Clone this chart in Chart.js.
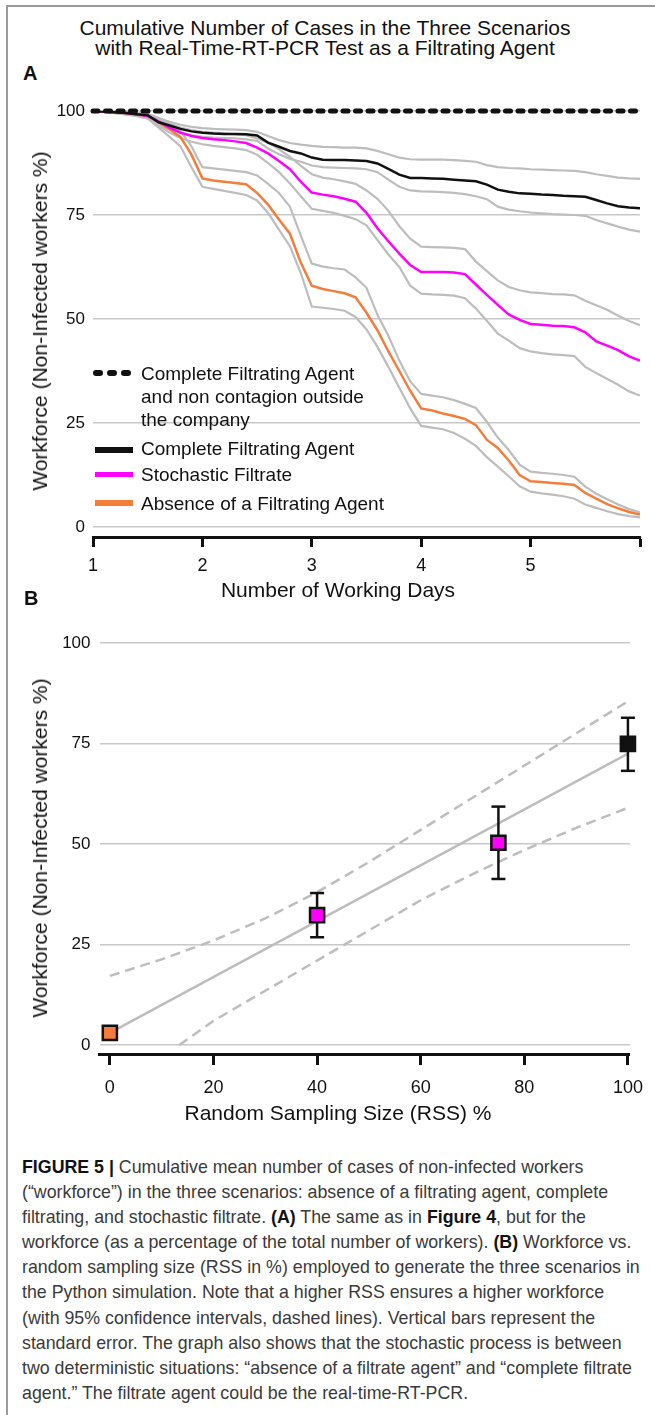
<!DOCTYPE html>
<html>
<head>
<meta charset="utf-8">
<script src="https://cdn.jsdelivr.net/npm/chart.js@4.4.0/dist/chart.umd.min.js"></script>
<style>
  body { margin: 0; background: #fff; width: 655px; height: 1415px; position: relative; overflow: hidden;
         font-family: 'Liberation Sans', Arial, sans-serif; color: #111; }
  canvas { position: absolute; left: 0; }
  .frame-top  { position: absolute; left: 7px; top: 5px; width: 648px; height: 1.5px; background: #9a9a9a; }
  .frame-left { position: absolute; left: 6px; top: 5px; width: 1.5px; height: 1410px; background: #9a9a9a; }
  .title { position: absolute; left: 0; width: 650px; text-align: center; font-size: 21px; line-height: 18px; white-space: nowrap; }
  .panel { position: absolute; font-weight: bold; font-size: 20px; line-height: 20px; }
  .axt { position: absolute; font-size: 21px; line-height: 24px; white-space: nowrap; transform: translate(-50%, -50%); }
  .axt.rot { transform: translate(-50%, -50%) rotate(-90deg); }
  .lg-text { position: absolute; left: 141px; font-size: 19px; line-height: 23px; white-space: nowrap; }
  .lg-line { position: absolute; }
  .dash { position: absolute; width: 10px; height: 6px; border-radius: 3px; background: #111; }
  .caption { position: absolute; left: 22px; top: 1155px; font-size: 17.8px; line-height: 25.1px; color: #3a3a3a; white-space: nowrap; }
  .caption b { color: #111; }
</style>
</head>
<body>
<div class="frame-top"></div>
<div class="frame-left"></div>

<div class="title" style="top:19px">Cumulative Number of Cases in the Three Scenarios</div>
<div class="title" style="top:39px">with Real-Time-RT-PCR Test as a Filtrating Agent</div>
<div class="panel" style="left:23px; top:63px">A</div>

<canvas id="chartA" width="655" height="610" style="top:0"></canvas>

<!-- panel A legend -->
<div class="dash" style="left:93px; top:370px"></div>
<div class="dash" style="left:107px; top:370px"></div>
<div class="dash" style="left:121px; top:370px"></div>
<div class="lg-text" style="top:362px">Complete Filtrating Agent<br>and non contagion outside<br>the company</div>
<div class="lg-line" style="left:95px; top:447px; width:38px; height:6px; background:#111"></div>
<div class="lg-text" style="top:437px">Complete Filtrating Agent</div>
<div class="lg-line" style="left:95px; top:472px; width:38px; height:5px; background:#ff00ff"></div>
<div class="lg-text" style="top:463px">Stochastic Filtrate</div>
<div class="lg-line" style="left:95px; top:500px; width:38px; height:6px; background:#f47d3c"></div>
<div class="lg-text" style="top:492px">Absence of a Filtrating Agent</div>

<div class="axt rot" style="left:40px; top:321px">Workforce (Non-Infected workers %)</div>
<div class="axt" style="left:338px; top:590px">Number of Working Days</div>

<div class="panel" style="left:24px; top:588px">B</div>
<canvas id="chartB" width="655" height="525" style="top:610px"></canvas>
<div class="axt rot" style="left:40px; top:848px">Workforce (Non-Infected workers %)</div>
<div class="axt" style="left:338px; top:1113px">Random Sampling Size (RSS) %</div>

<div class="caption">
<b>FIGURE 5 |</b> Cumulative mean number of cases of non-infected workers<br>
(“workforce”) in the three scenarios: absence of a filtrating agent, complete<br>
filtrating, and stochastic filtrate. <b>(A)</b> The same as in <b>Figure 4</b>, but for the<br>
workforce (as a percentage of the total number of workers). <b>(B)</b> Workforce vs.<br>
random sampling size (RSS in %) employed to generate the three scenarios in<br>
the Python simulation. Note that a higher RSS ensures a higher workforce<br>
(with 95% confidence intervals, dashed lines). Vertical bars represent the<br>
standard error. The graph also shows that the stochastic process is between<br>
two deterministic situations: “absence of a filtrate agent” and “complete filtrate<br>
agent.” The filtrate agent could be the real-time-RT-PCR.
</div>

<script>
/* ---------- Panel A data: workforce % per working day ---------- */
const days = [1.0, 1.1, 1.2, 1.3, 1.4, 1.5, 1.6, 1.7, 1.8, 1.9,
              2.0, 2.1, 2.2, 2.3, 2.4, 2.5, 2.6, 2.7, 2.8, 2.9,
              3.0, 3.1, 3.2, 3.3, 3.4, 3.5, 3.6, 3.7, 3.8, 3.9,
              4.0, 4.1, 4.2, 4.3, 4.4, 4.5, 4.6, 4.7, 4.8, 4.9,
              5.0, 5.1, 5.2, 5.3, 5.4, 5.5, 5.6, 5.7, 5.8, 5.9, 6.0];

const noContagionDays = [1, 6];
const noContagion     = [100, 100];

const complete   = [100, 99.9, 99.7, 99.5, 99.2, 99.0, 97.3, 96.5, 95.7, 95.1,
                    94.8, 94.6, 94.5, 94.5, 94.4, 94.1, 92.4, 91.4, 90.4, 89.8,
                    88.8, 88.3, 88.2, 88.2, 88.1, 88.0, 87.4, 86.1, 84.7, 83.9,
                    83.9, 83.8, 83.7, 83.5, 83.3, 83.1, 82.3, 81.1, 80.6, 80.2,
                    80.1, 79.9, 79.8, 79.6, 79.5, 79.4, 78.6, 77.8, 77.1, 76.8, 76.6];
const completeHi = [100, 100, 99.9, 99.8, 99.6, 99.3, 98.3, 97.4, 96.7, 96.2,
                    95.9, 95.7, 95.6, 95.5, 95.4, 95.0, 94.0, 93.0, 92.3, 91.9,
                    91.6, 91.4, 91.3, 91.2, 91.2, 91.0, 90.4, 89.6, 88.8, 88.4,
                    88.3, 88.3, 88.3, 88.2, 88.0, 87.8, 87.0, 86.5, 86.3, 86.2,
                    86.0, 85.9, 85.8, 85.7, 85.6, 85.3, 84.8, 84.4, 84.0, 83.8, 83.7];
const completeLo = [100, 99.8, 99.6, 99.3, 98.9, 98.3, 96.6, 95.6, 94.8, 94.2,
                    93.8, 93.6, 93.5, 93.4, 93.2, 92.8, 91.0, 89.6, 88.5, 87.8,
                    86.9, 86.5, 86.4, 86.3, 86.2, 86.0, 85.3, 83.5, 81.8, 80.9,
                    80.7, 80.6, 80.5, 80.3, 80.0, 79.5, 78.8, 77.0, 76.3, 75.9,
                    75.6, 75.4, 75.2, 75.1, 75.0, 74.8, 73.8, 73.0, 72.2, 71.5, 71.0];

const stochastic   = [100, 99.9, 99.7, 99.5, 99.2, 98.8, 97.5, 96.0, 94.8, 94.0,
                      93.5, 93.2, 93.0, 92.7, 92.3, 91.2, 89.8, 88.0, 86.0, 83.0,
                      80.4, 79.9, 79.5, 78.9, 78.2, 75.5, 71.8, 68.7, 65.7, 63.0,
                      61.3, 61.3, 61.3, 61.2, 60.8, 58.3, 55.8, 53.4, 51.1, 49.8,
                      48.8, 48.6, 48.4, 48.3, 48.0, 46.8, 44.6, 43.6, 42.5, 41.0, 40.0];
const stochasticHi = [100, 100, 99.9, 99.7, 99.5, 99.2, 98.2, 97.0, 96.0, 95.4,
                      95.0, 94.8, 94.6, 94.4, 94.2, 93.4, 92.4, 90.8, 89.0, 86.8,
                      84.8, 84.0, 83.6, 83.1, 82.5, 80.9, 78.9, 76.0, 72.3, 69.3,
                      67.4, 67.3, 67.2, 67.1, 66.8, 63.8, 61.5, 59.3, 57.7, 56.9,
                      56.4, 56.2, 56.0, 55.9, 55.7, 54.4, 53.3, 52.2, 50.8, 49.5, 48.5];
const stochasticLo = [100, 99.8, 99.5, 99.2, 98.8, 98.2, 96.5, 94.8, 93.5, 92.6,
                      92.0, 91.6, 91.3, 91.0, 90.6, 89.5, 87.5, 85.3, 82.6, 79.5,
                      76.5, 76.0, 75.5, 74.8, 74.0, 72.5, 69.0, 65.5, 62.5, 58.0,
                      56.1, 55.9, 55.8, 55.6, 55.0, 52.5, 49.6, 46.5, 44.8, 43.0,
                      42.2, 41.8, 41.5, 41.3, 41.1, 38.5, 37.0, 35.6, 34.2, 32.6, 31.6];

const absence   = [100, 99.9, 99.7, 99.5, 99.2, 98.8, 97.3, 95.6, 93.7, 89.5,
                   83.8, 83.3, 83.0, 82.7, 82.4, 80.3, 77.5, 73.9, 70.5, 63.5,
                   58.0, 57.2, 56.7, 56.2, 55.2, 51.5, 47.3, 42.2, 37.5, 32.7,
                   28.5, 28.0, 27.3, 26.7, 26.0, 24.5, 21.0, 19.0, 16.0, 12.5,
                   11.0, 10.8, 10.6, 10.4, 10.1, 8.2, 6.8, 5.5, 4.5, 3.6, 3.0];
const absenceHi = [100, 100, 99.9, 99.7, 99.5, 99.2, 98.2, 96.6, 95.2, 91.5,
                   86.5, 86.2, 85.9, 85.6, 85.3, 84.5, 82.5, 80.3, 77.0, 70.0,
                   63.3, 62.6, 62.2, 61.9, 60.0, 57.5, 51.0, 46.0, 40.0, 35.0,
                   32.0, 31.6, 31.2, 30.5, 29.6, 28.6, 25.3, 21.5, 18.5, 15.0,
                   13.3, 13.0, 12.8, 12.5, 12.1, 9.7, 8.0, 6.7, 5.4, 4.3, 3.5];
const absenceLo = [100, 99.8, 99.5, 99.2, 98.8, 98.2, 96.0, 93.8, 91.5, 86.5,
                   81.8, 81.3, 80.8, 80.3, 79.8, 78.5, 75.5, 71.5, 67.5, 61.0,
                   53.0, 52.7, 52.4, 52.0, 50.5, 47.5, 43.3, 38.5, 33.5, 28.5,
                   24.3, 23.9, 23.5, 22.6, 21.2, 19.5, 16.8, 14.5, 12.2, 9.8,
                   8.5, 8.1, 7.8, 7.4, 6.8, 5.4, 4.6, 3.8, 3.1, 2.6, 2.3];

const dayTicks      = [1, 2, 3, 4, 5, 6];
const dayTickLabels = ['1', '2', '3', '4', '5', ''];
const pctTicks      = [0, 25, 50, 75, 100];

/* ---------- Panel B data: workforce vs random sampling size ---------- */
const rss        = [0, 40, 75, 100];
const rssMean    = [3, 32.3, 50.3, 74.9];
const rssErrLow  = [null, 26.8, 41.3, 68.2];
const rssErrHigh = [null, 37.8, 59.3, 81.4];
const rssColors  = ['#f47d3c', '#ff00ff', '#ff00ff', '#111111'];

const fitX = [0, 100];
const fitY = [3, 72.5];
const ciUpperX = [0, 10, 20, 30, 40, 50, 60, 70, 80, 90, 100];
const ciUpperY = [17.2, 21.3, 26.0, 31.5, 38.0, 45.5, 53.5, 61.5, 69.5, 77.5, 85.5];
const ciLowerX = [13.4, 20, 30, 40, 50, 60, 70, 80, 90, 100];
const ciLowerY = [0, 6.0, 13.5, 21.0, 28.5, 36.0, 42.5, 48.5, 54.0, 59.0];
const rssTicks = [0, 20, 40, 60, 80, 100];

/* ---------- shared style ---------- */
const INK   = '#111111';
const BAND  = '#bdbdbd';
const GRID  = '#c8c8c8';
const ORANGE = '#f47d3c';
const MAGENTA = '#ff00ff';

Chart.defaults.font.family = "'Liberation Sans', Arial, sans-serif";
Chart.defaults.color = INK;

const xy = (xs, ys) => xs.map((x, i) => ({ x, y: ys[i] }));

function curve(values, color, width, order) {
    return { data: xy(days, values), borderColor: color, borderWidth: width, order,
             pointRadius: 0, tension: 0, fill: false };
}

const fixedTicks = list => scale => { scale.ticks = list.map(v => ({ value: v })); };

/* ---------- Panel A ---------- */
new Chart(document.getElementById('chartA'), {
    type: 'line',
    data: {
        datasets: [
            { data: xy(noContagionDays, noContagion), borderColor: INK, borderWidth: 5,
              borderDash: [5, 7.5], borderCapStyle: 'round', pointRadius: 0, order: 0, clip: false },
            curve(complete,   INK,     2.5, 1),
            curve(stochastic, MAGENTA, 2.5, 1),
            curve(absence,    ORANGE,  2.5, 1),
            curve(completeHi,   BAND, 2.2, 2),
            curve(completeLo,   BAND, 2.2, 2),
            curve(stochasticHi, BAND, 2.2, 2),
            curve(stochasticLo, BAND, 2.2, 2),
            curve(absenceHi,    BAND, 2.2, 2),
            curve(absenceLo,    BAND, 2.2, 2),
        ],
    },
    options: {
        responsive: false,
        animation: false,
        layout: { padding: { top: 111, right: 15, left: 0, bottom: 0 } },
        plugins: { legend: { display: false }, tooltip: { enabled: false } },
        scales: {
            x: {
                type: 'linear', min: 1, max: 6,
                afterBuildTicks: fixedTicks(dayTicks),
                afterFit: s => { s.height = 73; },
                ticks: { callback: (v, i) => dayTickLabels[i], font: { size: 18 }, padding: 8,
                         maxRotation: 0, autoSkip: false, color: INK },
                grid: { drawOnChartArea: false, drawTicks: true, tickLength: 10, tickWidth: 3,
                        tickColor: INK, color: INK },
                border: { display: true, color: INK, width: 3 },
            },
            y: {
                type: 'linear', min: -2.4, max: 100,
                afterBuildTicks: fixedTicks(pctTicks),
                afterFit: s => { s.width = 93; },
                ticks: { font: { size: 17 }, padding: 8, color: INK },
                grid: { color: GRID, lineWidth: 1.5, drawTicks: false },
                border: { display: false },
            },
        },
    },
});

/* ---------- Panel B ---------- */
const errorBars = rss
    .map((x, i) => ({ x, lo: rssErrLow[i], hi: rssErrHigh[i] }))
    .filter(e => e.lo !== null)
    .map(e => ({
        data: [{ x: e.x, y: e.lo }, { x: e.x, y: e.hi }],
        showLine: true, borderColor: INK, borderWidth: 2.5,
        pointStyle: 'line', pointRadius: 7, pointBorderWidth: 2.5, pointBorderColor: INK,
        order: 1, clip: false,
    }));

new Chart(document.getElementById('chartB'), {
    type: 'scatter',
    data: {
        datasets: [
            { data: xy(rss, rssMean), pointStyle: 'rect', pointRadius: 10, pointBorderWidth: 2.5,
              pointBorderColor: INK, pointBackgroundColor: rssColors, order: 0, clip: false },
            ...errorBars,
            { data: xy(fitX, fitY), showLine: true, borderColor: BAND, borderWidth: 2.5,
              pointRadius: 0, order: 2 },
            { data: xy(ciUpperX, ciUpperY), showLine: true, borderColor: BAND, borderWidth: 2.5,
              borderDash: [10, 6], pointRadius: 0, order: 2 },
            { data: xy(ciLowerX, ciLowerY), showLine: true, borderColor: BAND, borderWidth: 2.5,
              borderDash: [10, 6], pointRadius: 0, order: 2 },
        ],
    },
    options: {
        responsive: false,
        animation: false,
        layout: { padding: { top: 33, right: 15, left: 0, bottom: 0 } },
        plugins: { legend: { display: false }, tooltip: { enabled: false } },
        scales: {
            x: {
                type: 'linear', min: -2, max: 100.4,
                afterBuildTicks: fixedTicks(rssTicks),
                afterFit: s => { s.height = 81; },
                ticks: { font: { size: 18 }, padding: 12, maxRotation: 0, autoSkip: false, color: INK },
                grid: { drawOnChartArea: false, drawTicks: true, tickLength: 11, tickWidth: 3,
                        tickColor: INK, color: INK },
                border: { display: true, color: INK, width: 3 },
            },
            y: {
                type: 'linear', min: -2.24, max: 100,
                afterBuildTicks: fixedTicks(pctTicks),
                afterFit: s => { s.width = 99.5; },
                ticks: { font: { size: 17 }, padding: 9, color: INK },
                grid: { color: GRID, lineWidth: 1.5, drawTicks: false },
                border: { display: false },
            },
        },
    },
});
</script>
</body>
</html>
